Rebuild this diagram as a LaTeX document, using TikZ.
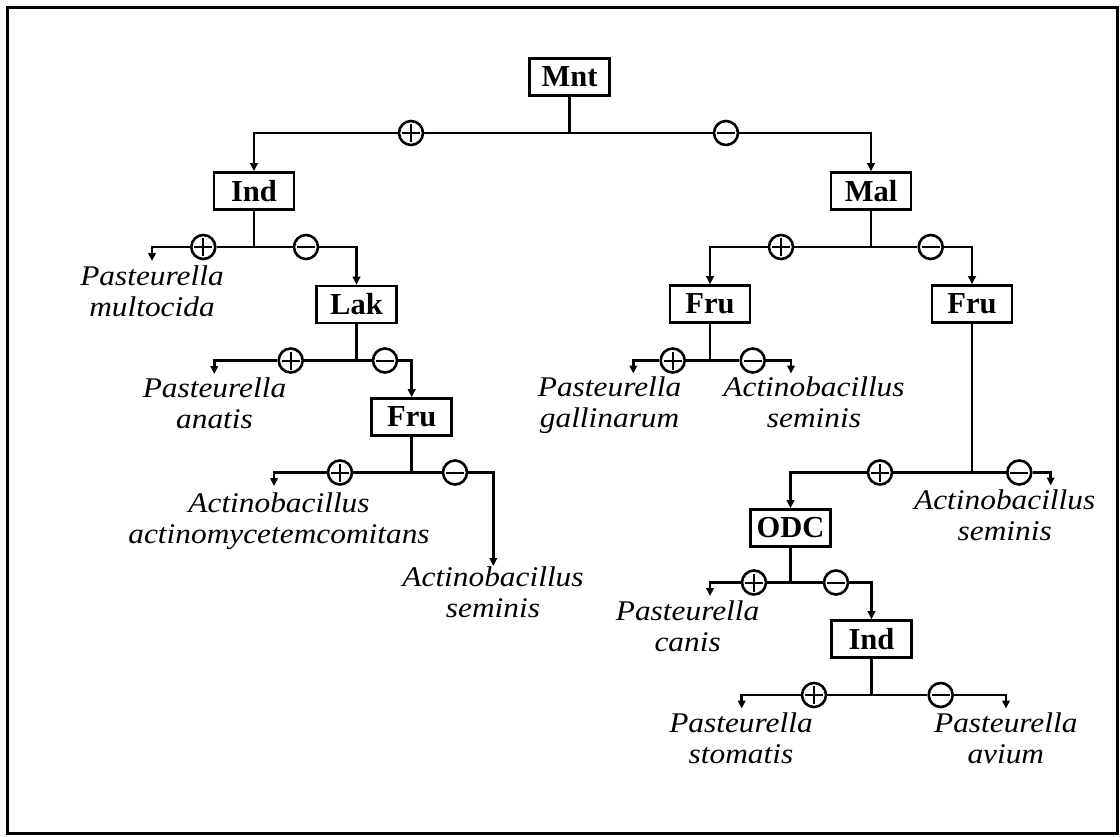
\documentclass[tikz,border=0pt]{standalone}
\usepackage{fontspec}
\setmainfont{Liberation Serif}
\newfontfamily\leaffont[FakeStretch=1.1]{Liberation Serif}
\usetikzlibrary{arrows.meta}
\begin{document}
\begin{tikzpicture}[x=1pt,y=-1pt,
  testbox/.style={draw, line width=2.6pt, minimum width=80pt, minimum height=37pt,
    inner sep=0pt, font=\fontsize{30.5}{32}\selectfont\bfseries},
  signmark/.style={circle, draw, fill=white, line width=2.6pt, minimum size=24pt, inner sep=0pt},
  plusmark/.style={signmark, path picture={
    \draw[line width=2pt]
      ([xshift=-9pt]path picture bounding box.center) -- ([xshift=9pt]path picture bounding box.center)
      ([yshift=-9pt]path picture bounding box.center) -- ([yshift=9pt]path picture bounding box.center);}},
  minusmark/.style={signmark, path picture={
    \draw[line width=2pt]
      ([xshift=-9pt]path picture bounding box.center) -- ([xshift=9pt]path picture bounding box.center);}},
  species/.style={align=center, anchor=base, inner sep=0pt,
    font=\leaffont\itshape\fontsize{28.5}{31}\selectfont},
  connector/.style={line width=2.6pt},
  arrowlink/.style={connector, -{Triangle[length=8pt,width=7.5pt]}},
]
\useasboundingbox (0,0) rectangle (1120,836);
% outer frame
\draw[line width=3pt] (7,7) rectangle (1117,833);

% test boxes
\node[testbox] (mnt)  at (569.5,77)  {Mnt};
\node[testbox] (ind1) at (254,191)   {Ind};
\node[testbox] (mal)  at (871,191)   {Mal};
\node[testbox] (lak)  at (356.5,304.5) {Lak};
\node[testbox] (fruA) at (411.7,417) {Fru};
\node[testbox] (fruB) at (710,304)   {Fru};
\node[testbox] (fruC) at (972,304)   {Fru};
\node[testbox] (odc)  at (790.5,528) {ODC};
\node[testbox] (ind2) at (871.5,639) {Ind};

% junctions below each box
\coordinate (jmnt)  at (569.5,133);
\coordinate (jind1) at (254,247);
\coordinate (jmal)  at (871,247);
\coordinate (jlak)  at (356.5,360.5);
\coordinate (jfruA) at (411.7,472.5);
\coordinate (jfruB) at (710,360.5);
\coordinate (jfruC) at (972,472.5);
\coordinate (jodc)  at (790.5,582.5);
\coordinate (jind2) at (871.5,695);

% result marks
\node[plusmark]  (mntP)  at (411,133) {};
\node[minusmark] (mntM)  at (726,133) {};
\node[plusmark]  (ind1P) at (203.3,247) {};
\node[minusmark] (ind1M) at (306,247) {};
\node[plusmark]  (malP)  at (781,247) {};
\node[minusmark] (malM)  at (930.7,247) {};
\node[plusmark]  (lakP)  at (290.7,360.5) {};
\node[minusmark] (lakM)  at (385,360.5) {};
\node[plusmark]  (fruAP) at (340,472.5) {};
\node[minusmark] (fruAM) at (455,472.5) {};
\node[plusmark]  (fruBP) at (672.7,360.5) {};
\node[minusmark] (fruBM) at (752.7,360.5) {};
\node[plusmark]  (fruCP) at (880,472.5) {};
\node[minusmark] (fruCM) at (1019.3,472.5) {};
\node[plusmark]  (odcP)  at (754,582.5) {};
\node[minusmark] (odcM)  at (836,582.5) {};
\node[plusmark]  (ind2P) at (814,695) {};
\node[minusmark] (ind2M) at (940.7,695) {};

% ends of the arrows to species
\coordinate (tMult)  at (152,261);
\coordinate (tAnat)  at (214.3,374);
\coordinate (tActa)  at (274,486);
\coordinate (tSemA)  at (493.3,566);
\coordinate (tGall)  at (633.3,373.5);
\coordinate (tSemB)  at (791,373.5);
\coordinate (tSemC)  at (1050.7,485.5);
\coordinate (tCanis) at (710,596);
\coordinate (tStom)  at (741.7,708.5);
\coordinate (tAvium) at (1006,708.5);

% species names (placed by the baseline of their second line)
\node[species] (lMult)  at (152,316)     {Pasteurella\\multocida};
\node[species] (lAnat)  at (214.5,428)   {Pasteurella\\anatis};
\node[species] (lActa)  at (279,543)     {Actinobacillus\\actinomycetemcomitans};
\node[species] (lSemA)  at (493,617)     {Actinobacillus\\seminis};
\node[species] (lGall)  at (609.6,427)   {Pasteurella\\gallinarum};
\node[species] (lSemB)  at (814,427)     {Actinobacillus\\seminis};
\node[species] (lSemC)  at (1004.7,540)  {Actinobacillus\\seminis};
\node[species] (lCanis) at (687.6,651)   {Pasteurella\\canis};
\node[species] (lStom)  at (741,763.3)   {Pasteurella\\stomatis};
\node[species] (lAvium) at (1005.8,763.3) {Pasteurella\\avium};

% Mnt
\draw[connector] (mnt) -- (jmnt);
\draw[connector] (jmnt) -- (mntP);
\draw[connector] (jmnt) -- (mntM);
\draw[arrowlink] (mntP) -| (ind1);
\draw[arrowlink] (mntM) -| (mal);
% Ind (left)
\draw[connector] (ind1) -- (jind1);
\draw[connector] (jind1) -- (ind1P);
\draw[connector] (jind1) -- (ind1M);
\draw[arrowlink] (ind1P) -| (tMult);
\draw[arrowlink] (ind1M) -| (lak);
% Lak
\draw[connector] (lak) -- (jlak);
\draw[connector] (jlak) -- (lakP);
\draw[connector] (jlak) -- (lakM);
\draw[arrowlink] (lakP) -| (tAnat);
\draw[arrowlink] (lakM) -| (fruA);
% Fru (left)
\draw[connector] (fruA) -- (jfruA);
\draw[connector] (jfruA) -- (fruAP);
\draw[connector] (jfruA) -- (fruAM);
\draw[arrowlink] (fruAP) -| (tActa);
\draw[arrowlink] (fruAM) -| (tSemA);
% Mal
\draw[connector] (mal) -- (jmal);
\draw[connector] (jmal) -- (malP);
\draw[connector] (jmal) -- (malM);
\draw[arrowlink] (malP) -| (fruB);
\draw[arrowlink] (malM) -| (fruC);
% Fru (middle)
\draw[connector] (fruB) -- (jfruB);
\draw[connector] (jfruB) -- (fruBP);
\draw[connector] (jfruB) -- (fruBM);
\draw[arrowlink] (fruBP) -| (tGall);
\draw[arrowlink] (fruBM) -| (tSemB);
% Fru (right)
\draw[connector] (fruC) -- (jfruC);
\draw[connector] (jfruC) -- (fruCP);
\draw[connector] (jfruC) -- (fruCM);
\draw[arrowlink] (fruCP) -| (odc);
\draw[arrowlink] (fruCM) -| (tSemC);
% ODC
\draw[connector] (odc) -- (jodc);
\draw[connector] (jodc) -- (odcP);
\draw[connector] (jodc) -- (odcM);
\draw[arrowlink] (odcP) -| (tCanis);
\draw[arrowlink] (odcM) -| (ind2);
% Ind (lower)
\draw[connector] (ind2) -- (jind2);
\draw[connector] (jind2) -- (ind2P);
\draw[connector] (jind2) -- (ind2M);
\draw[arrowlink] (ind2P) -| (tStom);
\draw[arrowlink] (ind2M) -| (tAvium);
\end{tikzpicture}
\end{document}
